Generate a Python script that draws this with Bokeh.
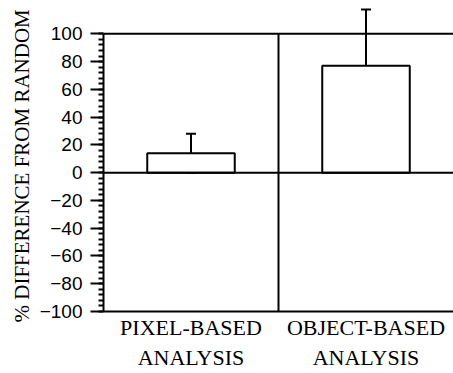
from bokeh.plotting import figure
from bokeh.models import Range1d, FixedTicker, Span, Whisker, TeeHead, ColumnDataSource, Title
from bokeh.embed import file_html
from bokeh.resources import INLINE

categories = ["PIXEL-BASED\nANALYSIS", "OBJECT-BASED\nANALYSIS"]
means = [14, 77]
errors = [14, 40.5]
y_ticks = [-100, -80, -60, -40, -20, 0, 20, 40, 60, 80, 100]
y_title = "% DIFFERENCE FROM RANDOM"

xs = [i + 0.5 for i in range(len(categories))]
src = ColumnDataSource(dict(
    x=xs, top=means,
    lower=[m - e for m, e in zip(means, errors)],
    upper=[m + e for m, e in zip(means, errors)],
))

p = figure(width=453, height=373, output_backend="svg", toolbar_location=None,
           x_range=Range1d(0, len(categories)), y_range=Range1d(-100, 124),
           min_border_left=103, min_border_right=0, min_border_top=0, min_border_bottom=59)
p.outline_line_color = None
p.grid.visible = False
p.background_fill_color = "white"
p.border_fill_color = "white"

p.vbar(x="x", top="top", bottom=0, width=0.5, source=src,
       fill_color="white", line_color="black", line_width=2)

w = Whisker(base="x", lower="lower", upper="upper", source=src,
            line_color="black", line_width=2,
            upper_head=TeeHead(size=10, line_color="black", line_width=2),
            lower_head=TeeHead(size=10, line_color="black", line_width=2))
p.add_layout(w)

for loc in (y_ticks[-1], 0):
    p.add_layout(Span(location=loc, dimension="width", line_color="black", line_width=2))

mid = (xs[0] + xs[1]) / 2
p.segment(x0=[mid], y0=[y_ticks[0]], x1=[mid], y1=[y_ticks[-1]], line_color="black", line_width=2)

ya = p.yaxis[0]
ya.bounds = (y_ticks[0], y_ticks[-1])
ya.ticker = FixedTicker(ticks=y_ticks, minor_ticks=list(range(-100, 101, 4)))
ya.axis_line_width = 2
ya.major_tick_line_width = 2
ya.minor_tick_line_width = 2
ya.major_tick_out = 13
ya.major_tick_in = 0
ya.minor_tick_out = 5
ya.minor_tick_in = 0
ya.major_label_text_font = "Liberation Sans"
ya.major_label_text_font_size = "19px"
ya.major_label_text_color = "black"
ya.major_label_standoff = 8

t = Title(text=y_title, align="left", offset=-11, standoff=6,
          text_font="Liberation Serif", text_font_style="normal",
          text_font_size="21px", text_color="black")
p.add_layout(t, "left")

xa = p.xaxis[0]
xa.ticker = FixedTicker(ticks=xs)
xa.major_label_overrides = {x: c for x, c in zip(xs, categories)}
xa.axis_line_width = 2
xa.major_tick_line_color = None
xa.minor_tick_line_color = None
xa.major_label_text_font = "Liberation Serif"
xa.major_label_text_font_size = "22px"
xa.major_label_text_color = "black"
xa.major_label_text_line_height = 1.22
xa.major_label_standoff = -3

open("out.html", "w").write(file_html(p, INLINE))
